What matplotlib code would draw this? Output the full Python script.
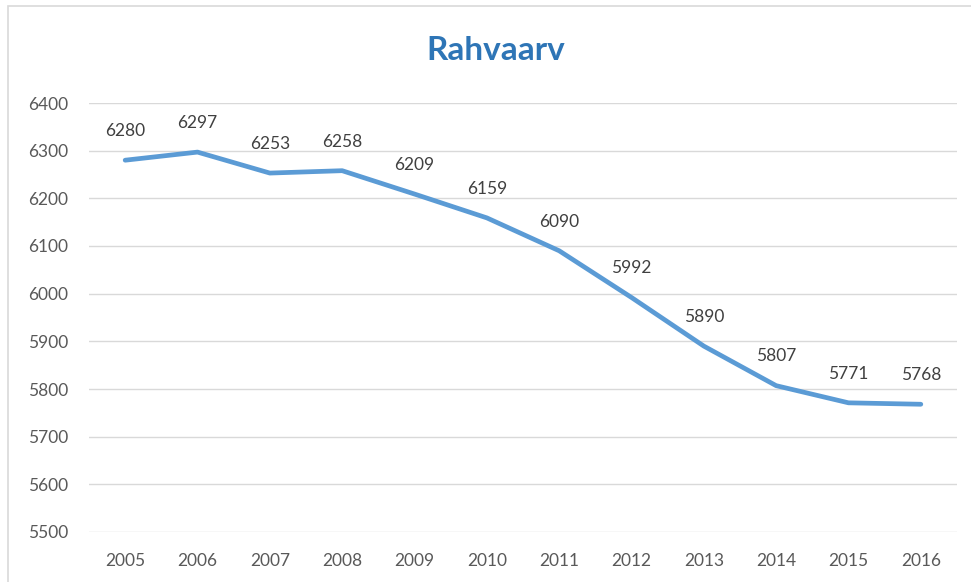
import matplotlib
matplotlib.use("Agg")
import matplotlib.pyplot as plt
from matplotlib.patches import Rectangle

# Andmed
aastad = ["2005", "2006", "2007", "2008", "2009", "2010",
          "2011", "2012", "2013", "2014", "2015", "2016"]
rahvaarv = [6280, 6297, 6253, 6258, 6209, 6159, 6090, 5992, 5890, 5807, 5771, 5768]
y_ticks = [5500, 5600, 5700, 5800, 5900, 6000, 6100, 6200, 6300, 6400]

plt.rcParams['font.family'] = ['Lato', 'DejaVu Sans']

fig = plt.figure(figsize=(9.71, 5.82), dpi=100)
fig.patch.set_facecolor("white")

# raam (vasak ja ülemine serv)
fig.patches.append(Rectangle((8 / 971, -0.1), 1.2, 1 - 6 / 582 + 0.1,
                             transform=fig.transFigure, fill=False,
                             edgecolor="#D9D9D9", linewidth=1.2))

ax = fig.add_axes([89 / 971, 1 - 532 / 582, (957 - 89) / 971, (532 - 103) / 582])
x = list(range(len(aastad)))
ax.plot(x, rahvaarv, color="#5B9BD5", linewidth=3.4, solid_capstyle="round", zorder=3)

for xi, v in zip(x, rahvaarv):
    ax.annotate(str(v), (xi, v), xytext=(0, 21), textcoords="offset points",
                ha="center", va="center", fontsize=12.5, color="#404040")

ax.set_xlim(-0.5, len(aastad) - 0.5)
ax.set_ylim(5500, 6400)
ax.set_yticks(y_ticks)
ax.set_xticks(x)
ax.set_xticklabels(aastad)
ax.grid(axis="y", color="#D9D9D9", linewidth=1)
ax.set_axisbelow(True)
for s in ax.spines.values():
    s.set_visible(False)
ax.tick_params(axis="both", length=0, labelsize=12.5, labelcolor="#595959")
ax.tick_params(axis="y", pad=15)
ax.tick_params(axis="x", pad=15)

fig.text(496 / 971, 1 - 50 / 582, "Rahvaarv", ha="center", va="center",
         fontsize=24, fontweight="bold", color="#2E75B6")

fig.savefig("out.png", dpi=100)
